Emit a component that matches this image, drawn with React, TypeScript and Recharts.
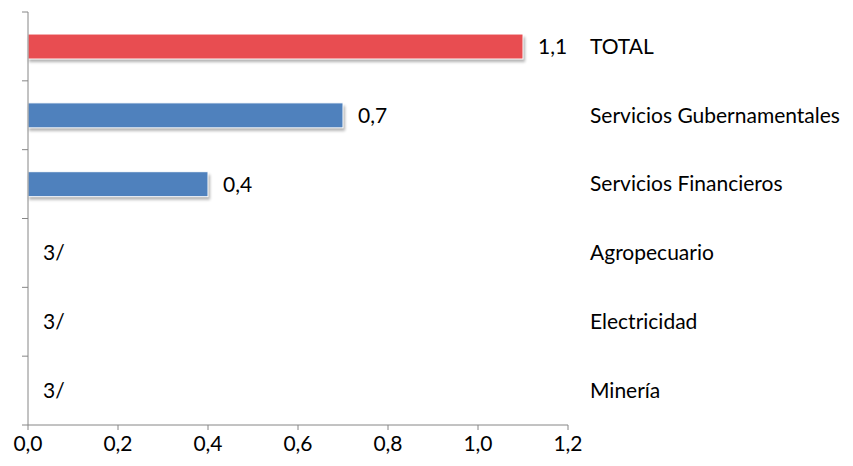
import React from 'react';
import { BarChart, Bar, XAxis, YAxis, Cell, LabelList } from 'recharts';

const categories = ['TOTAL', 'Servicios Gubernamentales', 'Servicios Financieros', 'Agropecuario', 'Electricidad', 'Minería'];
const values = [1.1, 0.7, 0.4, 0, 0, 0];
const barColors = ['#E84D51', '#4F81BD', '#4F81BD', '#4F81BD', '#4F81BD', '#4F81BD'];
const xTicks = [0, 0.2, 0.4, 0.6, 0.8, 1.0, 1.2];
const zeroLabel = '3/';

const data = categories.map((name, i) => ({ name, value: values[i] }));

const FONT = 'Lato, sans-serif';
const FS = 21;
const AXIS_COLOR = '#868686';
const PLOT_TOP = 12;
const PLOT_BOTTOM_MARGIN = 41;
const CHART_H = 466;

const fmt = (v: number) => v.toFixed(1).replace('.', ',');

const ShadowBar = (props: any) => {
  const { x, y, width, height, fill, index } = props;
  if (!width || width <= 0) return null;
  const id = `shadow-${index}`;
  return (
    <g>
      <defs>
        <filter id={id} x="-10%" y="-50%" width="120%" height="200%">
          <feGaussianBlur stdDeviation="1.5" />
        </filter>
      </defs>
      <rect x={x + 1} y={y + 3} width={width + 1} height={height} fill="#000" opacity={0.3} filter={`url(#${id})`} />
      <rect x={x} y={y} width={width} height={height} fill={fill} stroke="#ffffff" strokeWidth={1} />
    </g>
  );
};

const ValueLabel = (props: any) => {
  const { x, y, width, height, value } = props;
  const text = value === 0 ? zeroLabel : fmt(value);
  return (
    <text x={x + width + 15} y={y + height / 2} dy="0.35em" style={{ fontSize: FS, fontFamily: FONT }} fill="#000" textAnchor="start">
      {text}
    </text>
  );
};

const CategoryTick = (props: any) => {
  const { x, y, payload } = props;
  return (
    <text x={x + 22} y={y} dy="0.35em" style={{ fontSize: FS, fontFamily: FONT }} fill="#000" textAnchor="start">
      {payload.value}
    </text>
  );
};

// Tick marks at category boundaries (Excel-style) for the left axis.
const BoundaryTick = (props: any) => {
  const { x, y, index, visibleTicksCount } = props;
  const band = (CHART_H - PLOT_TOP - PLOT_BOTTOM_MARGIN) / categories.length;
  const half = band / 2;
  return (
    <g>
      <line x1={x - 6} x2={x} y1={y - half} y2={y - half} stroke={AXIS_COLOR} strokeWidth={1} />
      {index === (visibleTicksCount ?? categories.length) - 1 && (
        <line x1={x - 6} x2={x} y1={y + half} y2={y + half} stroke={AXIS_COLOR} strokeWidth={1} />
      )}
    </g>
  );
};

const XTick = (props: any) => {
  const { x, y, payload } = props;
  return (
    <text x={x} y={y} dy="0.8em" style={{ fontSize: FS, fontFamily: FONT }} fill="#000" textAnchor="middle">
      {fmt(payload.value)}
    </text>
  );
};

export default function App() {
  return (
    <div style={{ position: 'absolute', left: 0, top: 0, width: 853, height: CHART_H, background: '#fff' }}>
      <BarChart
        width={853}
        height={CHART_H}
        data={data}
        layout="vertical"
        margin={{ top: PLOT_TOP, right: 0, bottom: 0, left: 0 }}
        barCategoryGap="32%"
      >
        <XAxis
          type="number"
          domain={[0, 1.2]}
          ticks={xTicks}
          stroke={AXIS_COLOR}
          tickSize={5}
          tickMargin={4}
          height={PLOT_BOTTOM_MARGIN}
          tick={<XTick />}
          interval={0}
        />
        <YAxis
          yAxisId="left"
          type="category"
          dataKey="name"
          orientation="left"
          width={28}
          stroke={AXIS_COLOR}
          tickLine={false}
          tickSize={0}
          tickMargin={0}
          tick={<BoundaryTick />}
          interval={0}
        />
        <YAxis
          yAxisId="cat"
          type="category"
          dataKey="name"
          orientation="right"
          width={285}
          axisLine={false}
          tickLine={false}
          tickSize={0}
          tickMargin={0}
          tick={<CategoryTick />}
          interval={0}
        />
        <Bar yAxisId="cat" dataKey="value" isAnimationActive={false} shape={<ShadowBar />}>
          {data.map((d, i) => (
            <Cell key={d.name} fill={barColors[i]} />
          ))}
          <LabelList dataKey="value" content={<ValueLabel />} />
        </Bar>
      </BarChart>
    </div>
  );
}
